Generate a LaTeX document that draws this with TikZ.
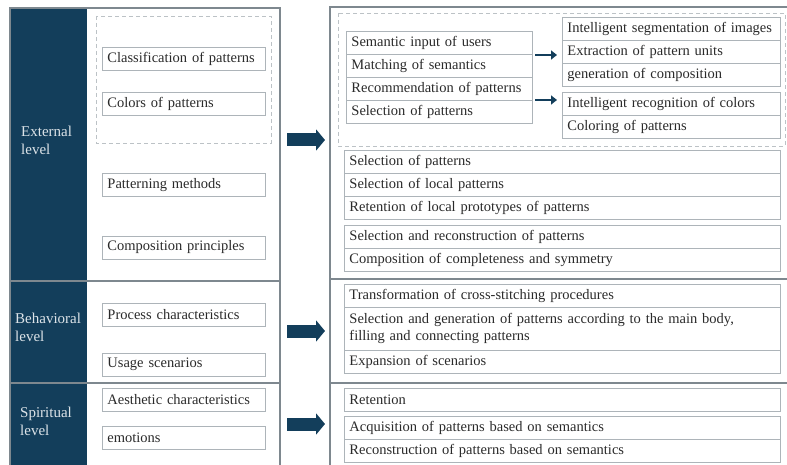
\documentclass[tikz,border=0pt]{standalone}
\usepackage{fontspec}
\setmainfont{Liberation Serif}
\usetikzlibrary{arrows.meta}
\definecolor{levelnavy}{HTML}{133E5B}
\definecolor{boxgray}{HTML}{ADB4B9}
\definecolor{panelgray}{HTML}{7E888F}
\definecolor{dashgray}{HTML}{BCC2C6}
\definecolor{labelwhite}{HTML}{DCE3E8}
\definecolor{ink}{HTML}{2A2A2A}
\begin{document}
\begin{tikzpicture}[x=1pt,y=-1pt,font=\fontsize{14.5}{17.5}\selectfont,
  item/.style={draw=boxgray, line width=0.9pt, text=ink, anchor=west,
    text width=#1, align=left, inner xsep=5pt, inner ysep=2pt, minimum height=23pt},
  levellabel/.style={text=labelwhite, anchor=west, align=left, inner sep=0pt,
    font=\fontsize{15}{18}\selectfont},
  panel/.style={draw=panelgray, line width=1.2pt},
  dashbox/.style={draw=dashgray, line width=0.8pt, dash pattern=on 4pt off 3pt},
  bigarrow/.style={draw=levelnavy, line width=13pt, -{Triangle[length=9pt,width=21pt]}},
  smallarrow/.style={draw=levelnavy, line width=2.2pt, -{Triangle[length=6pt,width=9pt]}}]
  \clip (0,0) rectangle (787,465);

  % panels
  \fill[levelnavy] (10,8) rectangle (87,470);
  \draw[panel] (10,8) rectangle (280,470);
  \draw[panel] (330,7) rectangle (795,470);
  \draw[panel] (10,281) -- (280,281);
  \draw[panel] (10,383) -- (280,383);
  \draw[panel] (330,279) -- (787,279);
  \draw[panel] (330,383) -- (787,383);
  \draw[dashbox] (96,16) rectangle (271,143);
  \draw[dashbox] (338,13) rectangle (785,146);

  % level labels
  \node[levellabel] (ext) at (21,140) {External\\level};
  \node[levellabel] (beh) at (15,327) {Behavioral\\level};
  \node[levellabel] (spi) at (20,421) {Spiritual\\level};

  % left items
  \node[item=153pt] (cls) at (102,59) {Classification of patterns};
  \node[item=153pt] (clr) at (102,104) {Colors of patterns};
  \node[item=153pt] (pat) at (102,185) {Patterning methods};
  \node[item=153pt] (cmp) at (102,247.5) {Composition principles};
  \node[item=153pt] (prc) at (102,315) {Process characteristics};
  \node[item=153pt] (usg) at (102,364.5) {Usage scenarios};
  \node[item=153pt] (aes) at (102,400) {Aesthetic characteristics};
  \node[item=153pt] (emo) at (102,438) {emotions};

  % right: semantic stack
  \node[item=176pt] (sem) at (346,42.5) {Semantic input of users};
  \node[item=176pt] (mat) at (346,65.5) {Matching of semantics};
  \node[item=176pt] (rec) at (346,88.5) {Recommendation of patterns};
  \node[item=176pt] (sel) at (346,111.5) {Selection of patterns};

  \node[item=208pt] (seg) at (562,28.5) {Intelligent segmentation of images};
  \node[item=208pt] (unt) at (562,51.5) {Extraction of pattern units};
  \node[item=208pt] (gen) at (562,74.5) {generation of composition};
  \node[item=208pt] (rcg) at (562,103.5) {Intelligent recognition of colors};
  \node[item=208pt] (col) at (562,126.5) {Coloring of patterns};

  \node[item=426pt] (psel) at (344,161.5) {Selection of patterns};
  \node[item=426pt] (lsel) at (344,184.5) {Selection of local patterns};
  \node[item=426pt] (lret) at (344,207.5) {Retention of local prototypes of patterns};
  \node[item=426pt] (rcn) at (344,236.5) {Selection and reconstruction of patterns};
  \node[item=426pt] (sym) at (344,259.5) {Composition of completeness and symmetry};

  \node[item=426pt] (trf) at (344,296) {Transformation of cross-stitching procedures};
  \node[item=426pt, minimum height=43pt] (body) at (344,328.5)
    {Selection and generation of patterns according to the main body,\\filling and connecting patterns};
  \node[item=426pt] (scn) at (344,362) {Expansion of scenarios};

  \node[item=426pt] (ret) at (344,399.5) {Retention};
  \node[item=426pt] (acq) at (344,427.5) {Acquisition of patterns based on semantics};
  \node[item=426pt] (rsm) at (344,450.5) {Reconstruction of patterns based on semantics};

  % arrows
  \coordinate (s1) at (535,55);  \coordinate (e1) at (557,55);
  \coordinate (s2) at (535,100); \coordinate (e2) at (557,100);
  \draw[smallarrow] (s1) -- (e1);
  \draw[smallarrow] (s2) -- (e2);
  \coordinate (b1) at (287,140); \coordinate (c1) at (325,140);
  \coordinate (b2) at (287,331); \coordinate (c2) at (325,331);
  \coordinate (b3) at (287,424); \coordinate (c3) at (325,424);
  \draw[bigarrow] (b1) -- (c1);
  \draw[bigarrow] (b2) -- (c2);
  \draw[bigarrow] (b3) -- (c3);
\end{tikzpicture}
\end{document}
